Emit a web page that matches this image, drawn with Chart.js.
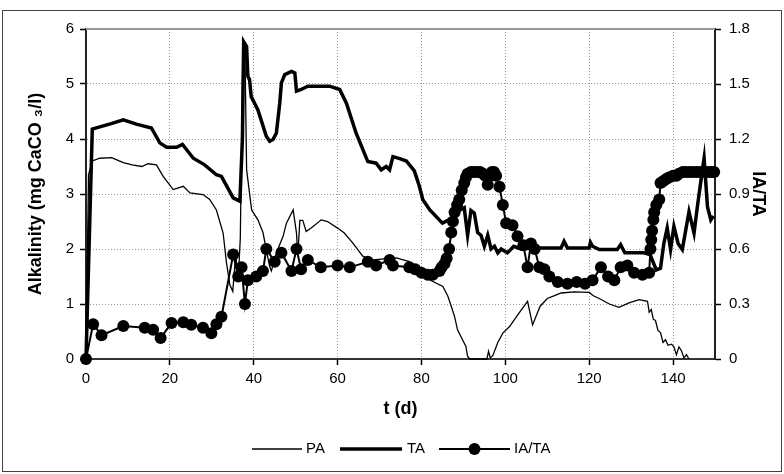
<!DOCTYPE html>
<html><head><meta charset="utf-8">
<script src="https://cdn.jsdelivr.net/npm/chart.js@4/dist/chart.umd.min.js"></script>
<style>html,body{margin:0;padding:0;background:#fff;}canvas{display:block;}</style>
</head><body>
<canvas id="c" width="784" height="474"></canvas>
<script>
// ---- data ----
const xTicks = [0, 20, 40, 60, 80, 100, 120, 140];
const yTicks = [0, 1, 2, 3, 4, 5, 6];
const y2Ticks = [0, 0.3, 0.6, 0.9, 1.2, 1.5, 1.8];

const paT = [0,0.6,1.5,3.3,6.1,8.9,11,13.3,14.8,16.8,18.4,20.8,23.2,24.8,27.9,29.5,31.1,32.7,33.5,34.3,35,35.7,36.3,36.8,37.4,37.9,38.3,39.5,41,42.2,43,43.8,44.2,45.5,47,47.8,49.4,50.2,50.5,51,51.7,52.5,53.7,56.1,57.6,60,61.6,63.6,66,68.4,71,74,77.1,79.5,81.9,85.1,86.3,87.1,87.9,88.6,89.4,90.6,91,91.5,95.6,96,96.4,97,98.2,99.4,101,103.3,105.3,106.5,108.3,110,111.3,113.3,116.4,120,121,122.4,124.8,127.1,129.5,131.9,133.9,134.3,134.8,135.3,135.8,136.4,137,137.6,138.2,138.8,139.6,140.2,140.8,141.4,142,142.6,143.2,143.8];
const paV = [0,3.35,3.6,3.65,3.66,3.57,3.53,3.5,3.55,3.53,3.32,3.08,3.14,3.02,2.99,2.9,2.71,2.29,1.75,1.35,1.23,1.9,1.45,2.2,5.55,5.6,3.44,2.71,2.53,2.3,1.99,1.68,1.6,1.95,2.23,2.47,2.71,2.29,1.87,2.52,2.52,2.32,2.38,2.53,2.5,2.38,2.29,2.11,1.87,1.8,1.82,1.84,1.77,1.6,1.44,1.32,1.14,0.96,0.77,0.53,0.41,0.23,0.05,0,0,0.14,0.02,0.06,0.3,0.47,0.59,0.84,1.05,0.62,0.96,1.1,1.14,1.2,1.22,1.21,1.15,1.1,1.0,0.94,1.02,1.08,1.05,0.85,0.9,0.72,0.7,0.52,0.48,0.3,0.35,0.25,0.27,0.22,0.08,0.22,0.15,0.02,0.08,0];

const taT = [0,1.5,3.3,6,8.9,12,15.6,17.6,19.2,21.6,23,25.6,28.3,31.1,32.3,35.1,36.7,37.3,37.6,38.3,38.6,39,39.4,40.2,41,43,43.8,44.6,45.4,46.2,46.6,47.4,49,49.8,50.2,51.3,52.9,58.1,60.5,62.1,64.4,67.2,69.2,70.4,71.6,72.4,73.2,75,76.4,78.3,79.5,80.3,82,85,87,89,90.2,91,91.8,92.6,93.4,94.2,95,95.8,96.6,97.4,98.2,99,100.5,102,103.7,106.9,113.3,114,114.8,120,120.3,120.8,122.4,126.7,127.5,128.5,133,134.5,136,137,137.8,138.6,139.4,140.2,141.2,142.2,143.8,145,145.8,147,147.4,148.2,149,149.6];
const taV = [0,4.18,4.22,4.28,4.35,4.27,4.2,3.93,3.85,3.85,3.9,3.65,3.53,3.35,3.32,2.93,2.87,4.0,5.77,5.68,5.14,5.08,4.77,4.65,4.53,4.05,3.96,3.99,4.11,4.65,5.02,5.17,5.23,5.2,4.87,4.9,4.96,4.96,4.9,4.65,4.11,3.59,3.56,3.44,3.5,3.44,3.68,3.64,3.6,3.42,3.14,2.9,2.71,2.47,2.55,2.7,2.75,2.25,2.7,2.65,2.3,2.25,2.05,2.25,2.0,2.05,1.93,2.0,1.93,2.05,2.0,2.02,2.02,2.14,2.02,2.02,2.12,2.05,1.99,1.99,2.08,1.93,1.93,1.9,1.62,1.65,2.1,2.38,1.99,2.41,2.1,1.99,2.68,2.29,2.77,3.44,3.65,2.77,2.53,2.6];

const iaT = [0,1.7,3.7,8.9,14,16,17.8,20.4,23.2,25.1,27.9,29.9,31.1,32.3,35.1,36.3,37.1,37.9,38.6,40.6,42.2,43,45,46.6,49,50.2,51.3,52.9,56,60,62.9,67.2,69.2,72.4,73.2,77.1,78.5,80,81.5,82.7,84.3,84.8,85.5,86,86.6,87.1,87.5,87.9,88.5,89,89.6,90.2,90.6,91,91.8,92.5,93.3,94,94.7,95.2,95.8,96.3,96.8,97.3,97.8,98.6,99.4,100.2,101.7,102.9,104.3,105.3,106.1,107,108.1,109.3,110.5,112.5,114.8,117,119,120.8,122.8,124.5,126,127.5,129.1,130.7,132.7,134.3,134.6,134.8,135,135.3,135.5,136,136.7,137,137.6,138.3,139,140,140.8,141.4,142.3,143,143.8,144.6,145.5,146.2,147,147.7,148.5,149.2,149.8];
const iaV = [0,0.19,0.13,0.18,0.17,0.16,0.115,0.196,0.2,0.187,0.17,0.14,0.19,0.23,0.57,0.45,0.5,0.3,0.43,0.45,0.48,0.6,0.53,0.58,0.48,0.6,0.49,0.54,0.5,0.51,0.5,0.53,0.51,0.54,0.51,0.5,0.49,0.47,0.46,0.46,0.48,0.5,0.52,0.55,0.6,0.69,0.75,0.8,0.84,0.87,0.92,0.96,0.99,1.01,1.02,1.02,1.02,1.02,1.01,1.0,0.95,1.0,1.02,1.02,1.0,0.94,0.84,0.74,0.73,0.67,0.62,0.5,0.63,0.6,0.5,0.49,0.45,0.42,0.41,0.42,0.41,0.43,0.5,0.45,0.43,0.5,0.51,0.47,0.46,0.47,0.6,0.65,0.7,0.76,0.8,0.84,0.87,0.96,0.97,0.98,0.99,1.0,1.0,1.01,1.02,1.02,1.02,1.02,1.02,1.02,1.02,1.02,1.02,1.02,1.02];

const legendItems = ['PA', 'TA', 'IA/TA'];

// ---- chart ----
const FONT = "'Liberation Sans', Arial, sans-serif";
const toXY = (t, v) => t.map((x, i) => ({x: x, y: v[i]}));

const decor = {
  id: 'decor',
  beforeDraw(chart) {
    const c = chart.ctx;
    c.save(); c.fillStyle = '#fff'; c.fillRect(0, 0, chart.width, chart.height); c.restore();
  },
  afterDraw(chart) {
    const c = chart.ctx, a = chart.chartArea;
    c.save();
    // plot-area top border
    c.strokeStyle = '#999'; c.lineWidth = 2;
    c.beginPath(); c.moveTo(a.left, a.top); c.lineTo(a.right, a.top); c.stroke();
    // outer frame
    c.strokeStyle = '#444'; c.lineWidth = 1;
    c.strokeRect(2.5, 10.5, 779, 461);
    // legend
    const y = 449;
    c.font = '15px ' + FONT; c.textBaseline = 'middle'; c.textAlign = 'left';
    const samples = [[252, 302, 1.3], [340, 402, 3.5], [439, 510, 2]];
    const textX = [306, 407, 514];
    legendItems.forEach((lab, i) => {
      const s = samples[i];
      c.strokeStyle = '#000'; c.lineWidth = s[2];
      c.beginPath(); c.moveTo(s[0], y); c.lineTo(s[1], y); c.stroke();
      if (i === 2) { c.beginPath(); c.arc((s[0] + s[1]) / 2, y, 6, 0, Math.PI * 2); c.fillStyle = '#000'; c.fill(); }
      c.fillStyle = '#000';
      c.fillText(lab, textX[i], y);
    });
    c.restore();
  }
};

new Chart(document.getElementById('c'), {
  type: 'line',
  data: {
    datasets: [
      {label: 'IA/TA', data: toXY(iaT, iaV), yAxisID: 'y2', borderColor: '#000', backgroundColor: '#000',
       borderWidth: 2, pointRadius: 6, pointHoverRadius: 6, pointBorderWidth: 0, pointBackgroundColor: '#000',
       tension: 0, order: 0, clip: false},
      {label: 'TA', data: toXY(taT, taV), yAxisID: 'y', borderColor: '#000', borderWidth: 3.5, pointRadius: 0,
       tension: 0, order: 1, clip: false},
      {label: 'PA', data: toXY(paT, paV), yAxisID: 'y', borderColor: '#000', borderWidth: 1.3, pointRadius: 0,
       tension: 0, order: 2, clip: false}
    ]
  },
  options: {
    responsive: false, animation: false, devicePixelRatio: 1,
    layout: {padding: {top: 29, left: 0, right: 0, bottom: 0}},
    plugins: {legend: {display: false}, tooltip: {enabled: false}},
    scales: {
      x: {
        type: 'linear', position: 'bottom', min: 0, max: 150,
        afterBuildTicks: s => { s.ticks = xTicks.map(v => ({value: v})); },
        afterFit: s => { s.height = 115; },
        ticks: {font: {family: FONT, size: 15}, color: '#000', padding: 5, maxRotation: 0, autoSkip: false},
        grid: {color: '#999', lineWidth: 1, tickColor: '#000', tickLength: 6, tickWidth: 1.5},
        border: {color: '#333', width: 2, dash: [1, 2]},
        title: {display: true, text: 't (d)', color: '#000', font: {family: FONT, size: 18, weight: 'bold'},
                padding: {top: 0, bottom: 54}}
      },
      y: {
        type: 'linear', position: 'left', min: 0, max: 6,
        afterBuildTicks: s => { s.ticks = yTicks.map(v => ({value: v})); },
        afterFit: s => { s.width = 86; },
        ticks: {font: {family: FONT, size: 15}, color: '#000', padding: 6},
        grid: {color: '#999', lineWidth: 1, tickColor: '#000', tickLength: 6, tickWidth: 1.5},
        border: {color: '#222', width: 2, dash: [1, 2]},
        title: {display: true, text: 'Alkalinity (mg CaCO ₃/l)', color: '#000',
                font: {family: FONT, size: 18, weight: 'bold'}, padding: {top: 25, bottom: 0}}
      },
      y2: {
        type: 'linear', position: 'right', min: 0, max: 1.8,
        afterBuildTicks: s => { s.ticks = y2Ticks.map(v => ({value: v})); },
        afterFit: s => { s.width = 69; },
        ticks: {font: {family: FONT, size: 15}, color: '#000', padding: 8,
                callback: v => (v === 0 ? '0' : v.toFixed(1))},
        grid: {drawOnChartArea: false, tickColor: '#000', tickLength: 6, tickWidth: 1.5},
        border: {color: '#222', width: 2},
        title: {display: true, text: 'IA/TA', color: '#000',
                font: {family: FONT, size: 18, weight: 'bold'}, padding: {top: 15, bottom: 0}}
      }
    }
  },
  plugins: [decor]
});
</script>
</body></html>
